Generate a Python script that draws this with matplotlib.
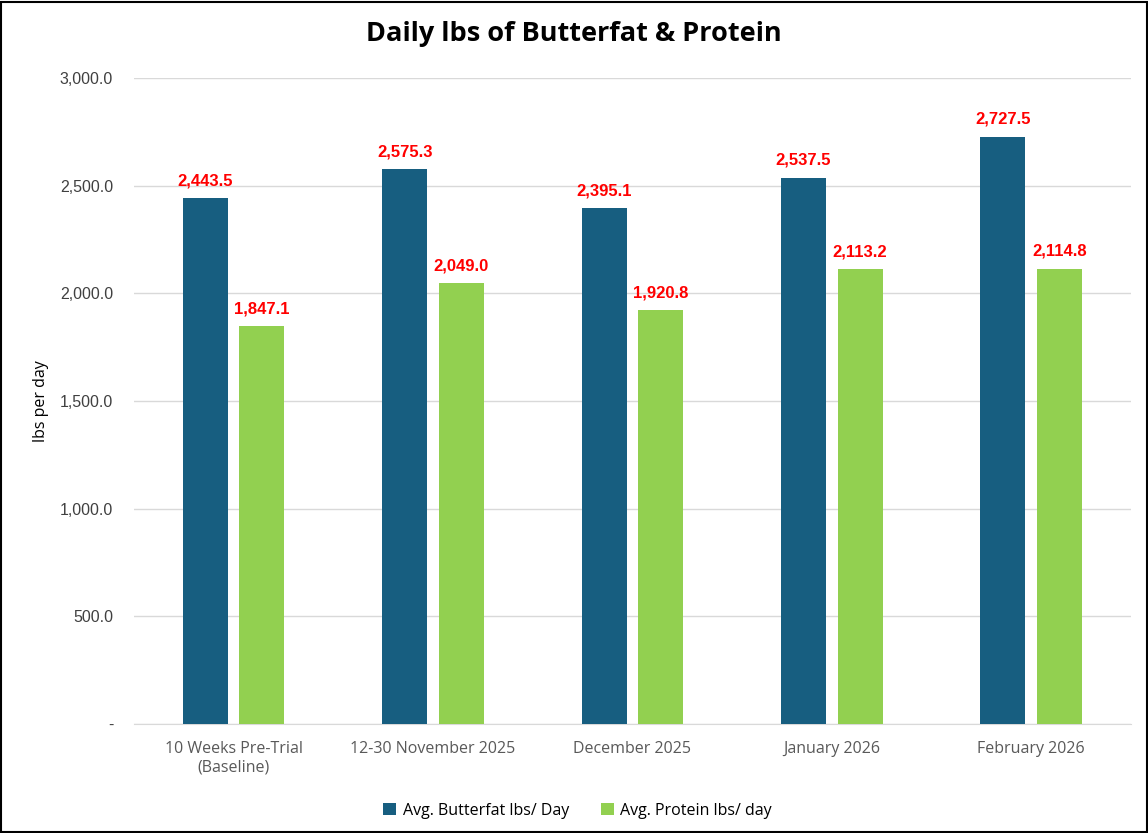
import matplotlib.pyplot as plt
import numpy as np
from matplotlib.ticker import FuncFormatter

categories = ["10 Weeks Pre-Trial\n(Baseline)", "12-30 November 2025", "December 2025",
              "January 2026", "February 2026"]
butterfat = [2443.5, 2575.3, 2395.1, 2537.5, 2727.5]
protein = [1847.1, 2049.0, 1920.8, 2113.2, 2114.8]
series_names = ["Avg. Butterfat lbs/ Day", "Avg. Protein lbs/ day"]

blue = "#175E80"
green = "#92D050"

fig = plt.figure(figsize=(11.48, 8.33), dpi=100)
ax = fig.add_axes([0.1167, 0.1309, 0.8683, 0.7755])

x = np.arange(len(categories))
width = 0.226
offset = 0.142
b1 = ax.bar(x - offset, butterfat, width, color=blue, label=series_names[0], zorder=3)
b2 = ax.bar(x + offset, protein, width, color=green, label=series_names[1], zorder=3)

for bars in (b1, b2):
    for rect in bars:
        h = rect.get_height()
        ax.annotate(f"{h:,.1f}", (rect.get_x() + rect.get_width() / 2, h),
                    xytext=(0, 7), textcoords="offset points", ha="center", va="bottom",
                    color="#FF0000", fontsize=12, fontweight="bold", family="Liberation Sans")

ax.set_xlim(-0.5, len(categories) - 0.5)
ax.set_ylim(0, 3000)
ax.set_yticks(np.arange(0, 3001, 500))
ax.yaxis.set_major_formatter(FuncFormatter(lambda v, p: "-" if v == 0 else f"{v:,.1f}"))
ax.set_xticks(x)
ax.set_xticklabels(categories, fontsize=11.5, color="#595959", family="Open Sans")
for lab in ax.get_yticklabels():
    lab.set_fontsize(11.5)
    lab.set_family("Liberation Sans")
    lab.set_color("#404040")
ax.tick_params(length=0)
ax.tick_params(axis="y", pad=15)
ax.tick_params(axis="x", pad=12)
ax.grid(axis="y", color="#D9D9D9", linewidth=1, zorder=0)
for s in ("top", "right", "left"):
    ax.spines[s].set_visible(False)
ax.spines["bottom"].set_color("#D9D9D9")
ax.set_ylabel("lbs per day", fontsize=11.5, family="Open Sans", labelpad=8)

fig.suptitle("Daily lbs of Butterfat & Protein", x=0.5, y=0.975, fontsize=19.5,
             fontweight="bold", family="Open Sans")

fig.legend(loc="lower center", bbox_to_anchor=(0.503, 0.0), ncol=2, frameon=False,
           prop={"family": "Open Sans", "size": 11.5}, handlelength=0.8, handleheight=0.8,
           columnspacing=2.0, handletextpad=0.4)

fig.patches.append(plt.Rectangle((0.001, 0.001), 0.998, 0.997, transform=fig.transFigure,
                                 fill=False, edgecolor="black", linewidth=1.5))

fig.savefig("out.png", dpi=100)
